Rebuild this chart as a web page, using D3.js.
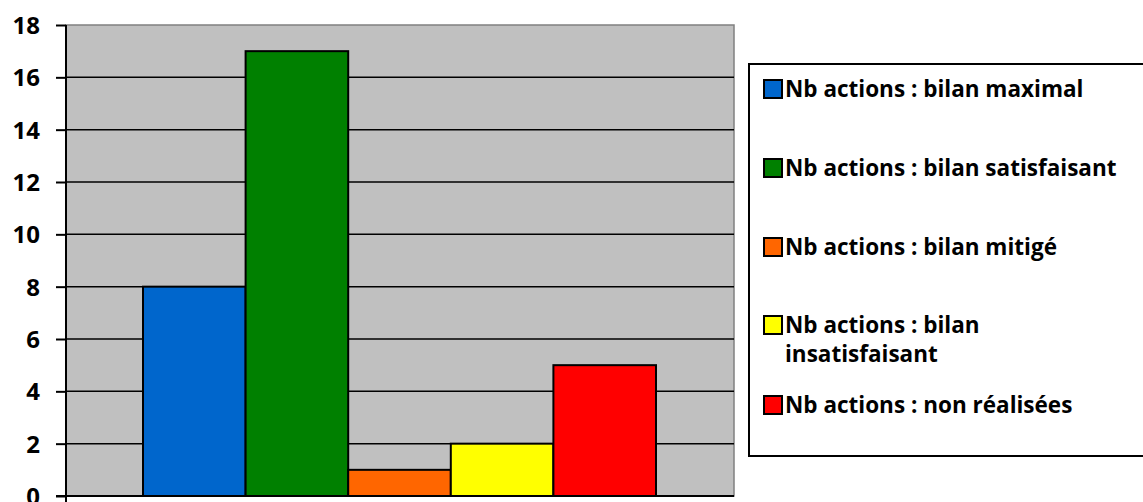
<!DOCTYPE html>
<head>
<meta charset="utf-8">
<script src="https://d3js.org/d3.v7.min.js"></script>
<style>
body { margin: 0; background: #fff; }
text { font-family: "Open Sans", sans-serif; font-weight: 700; fill: #000; }
</style>
</head>
<body>
<script>
// one category, five series
const seriesNames = [
   'Nb actions : bilan maximal',
   'Nb actions : bilan satisfaisant',
   'Nb actions : bilan mitigé',
   'Nb actions : bilan insatisfaisant',
   'Nb actions : non réalisées'
];
const seriesValues = [8, 17, 1, 2, 5];
const seriesColours = ['#0066CC', '#008000', '#FF6600', '#FFFF00', '#FF0000'];
const yTicks = [0, 2, 4, 6, 8, 10, 12, 14, 16, 18];

const width = 1143, height = 502;
const plot = {left: 66, right: 734, top: 25, bottom: 496};

const svg = d3.select('body').append('svg')
   .attr('width', width)
   .attr('height', height);

let y = d3.scaleLinear()
   .domain([0, 18])
   .range([plot.bottom, plot.top]);

// gap width 150% like the spreadsheet
let x = d3.scaleBand()
   .domain(seriesNames)
   .range([143, 656]);

// plot background
svg.append('rect')
   .attr('x', plot.left)
   .attr('y', plot.top)
   .attr('width', plot.right - plot.left)
   .attr('height', plot.bottom - plot.top)
   .style('fill', '#C0C0C0')
   .style('stroke', '#808080')
   .style('stroke-width', 1.5);

// gridlines
svg.selectAll('line.grid')
   .data(yTicks.filter(d => d > 0 && d < 18))
   .enter()
   .append('line')
   .attr('class', 'grid')
   .attr('x1', plot.left)
   .attr('x2', plot.right)
   .attr('y1', d => y(d))
   .attr('y2', d => y(d))
   .style('stroke', '#000')
   .style('stroke-width', 1.5);

// bars
svg.selectAll('rect.bar')
   .data(seriesNames)
   .enter()
   .append('rect')
   .attr('class', 'bar')
   .attr('x', d => x(d))
   .attr('width', x.bandwidth())
   .attr('y', (d, i) => y(seriesValues[i]))
   .attr('height', (d, i) => y(0) - y(seriesValues[i]))
   .style('fill', (d, i) => seriesColours[i])
   .style('stroke', '#000')
   .style('stroke-width', 2);

// y axis
let yAxis = d3.axisLeft(y)
   .tickValues(yTicks)
   .tickSize(10)
   .tickPadding(16);

let gAxis = svg.append('g')
   .attr('transform', `translate(${plot.left}, 0)`)
   .call(yAxis)
   .attr('font-family', null)
   .attr('font-size', null);
gAxis.select('path.domain').remove();
gAxis.selectAll('.tick line').style('stroke', '#000').style('stroke-width', 2);
gAxis.selectAll('.tick text')
   .style('font-size', '24px')
   .style('font-family', '"Open Sans", sans-serif')
   .style('font-weight', 700)
   .attr('dy', '0.36em');

svg.append('line')
   .attr('x1', plot.left).attr('x2', plot.left)
   .attr('y1', plot.top).attr('y2', plot.bottom + 6)
   .style('stroke', '#000').style('stroke-width', 2);
svg.append('line')
   .attr('x1', plot.left - 10).attr('x2', plot.right)
   .attr('y1', plot.bottom).attr('y2', plot.bottom)
   .style('stroke', '#000').style('stroke-width', 2);

// legend
svg.append('rect')
   .attr('x', 749)
   .attr('y', 64)
   .attr('width', 420)
   .attr('height', 392)
   .style('fill', '#fff')
   .style('stroke', '#000')
   .style('stroke-width', 2);

const legendRows = [89, 168, 247, 325, 405];
const legendLines = [
   ['Nb actions : bilan maximal'],
   ['Nb actions : bilan satisfaisant'],
   ['Nb actions : bilan mitigé'],
   ['Nb actions : bilan', 'insatisfaisant'],
   ['Nb actions : non réalisées']
];

let legend = svg.selectAll('g.legendItem')
   .data(seriesNames)
   .enter()
   .append('g')
   .attr('class', 'legendItem')
   .attr('transform', (d, i) => `translate(764, ${legendRows[i]})`);

legend.append('rect')
   .attr('x', 0)
   .attr('y', -9)
   .attr('width', 18)
   .attr('height', 18)
   .style('fill', (d, i) => seriesColours[i])
   .style('stroke', '#000')
   .style('stroke-width', 2);

legend.append('text')
   .style('font-size', '22.5px')
   .attr('x', 21)
   .attr('y', 0)
   .selectAll('tspan')
   .data((d, i) => legendLines[i])
   .enter()
   .append('tspan')
   .attr('x', 21)
   .attr('dy', (d, j) => j === 0 ? '0.36em' : '1.3em')
   .text(d => d);
</script>
</body>
